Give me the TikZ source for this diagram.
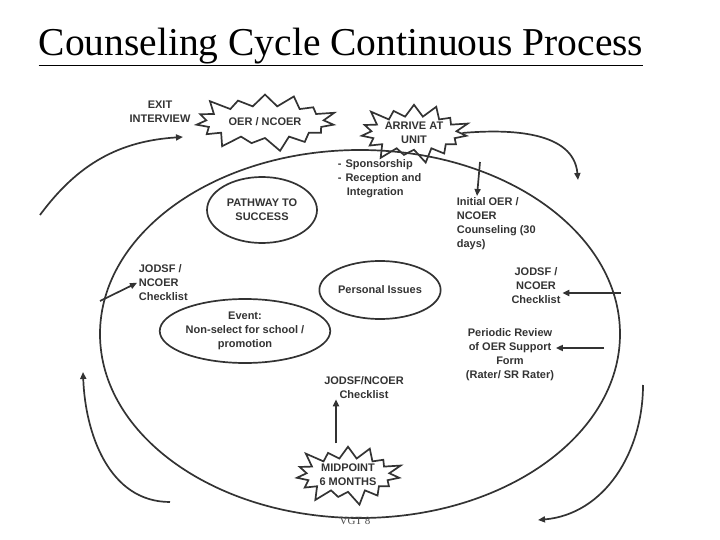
\documentclass[tikz,border=0pt]{standalone}
\usepackage{fontspec}
\setmainfont{Liberation Sans}
\newfontfamily\titlefont{Liberation Serif}
\usetikzlibrary{shapes.geometric,shapes.symbols,arrows.meta}
\begin{document}
\begin{tikzpicture}[x=1pt,y=-1pt,line width=1.7pt,draw=black!80]
    \tikzstyle{lbl} = [font=\bfseries\fontsize{11}{14}\selectfont,align=center,inner sep=1pt,text=black!80]
    \tikzstyle{burst} = [draw,starburst,starburst points=15,starburst point height=16pt,
                         inner sep=0pt,lbl]
    \tikzstyle{blob} = [draw,ellipse,inner sep=0pt,lbl]
    \tikzstyle{flow} = [draw=black!80,-{Triangle[length=7pt,width=6pt]}]

    \useasboundingbox (0,0) rectangle (720,540);

    % title
    \node[font=\titlefont\fontsize{39.5}{42}\selectfont,text=black] (title) at (341,47)
          {\underline{Counseling Cycle Continuous Process}};

    % the cycle
    \node[draw,ellipse,minimum width=520pt,minimum height=368pt] (cycle) at (360,334) {};

    \node[burst,minimum width=150pt,minimum height=64pt] (oer) at (265,122) {OER / NCOER};
    \node[burst,minimum width=112pt,minimum height=54pt] (arrive) at (414,133) {ARRIVE AT\\UNIT};
    \node[burst,minimum width=112pt,minimum height=54pt] (midpoint) at (348,475) {MIDPOINT\\6 MONTHS};

    \node[blob,minimum width=110pt,minimum height=66pt] (pathway) at (262,210) {PATHWAY TO\\SUCCESS};
    \node[blob,minimum width=106pt,minimum height=58pt] (personal) at (380,290) {Personal Issues};
    \node[blob,minimum width=160pt,minimum height=64pt] (event) at (245,331) {Event:\\Non-select for school /\\promotion};

    \node[lbl] (exit) at (160,112) {EXIT\\INTERVIEW};
    \node[lbl,align=left,anchor=north west] (sponsor) at (336,158)
          {-\hspace{4pt}Sponsorship\\-\hspace{4pt}Reception and\\\hspace{9pt}Integration};
    \node[lbl,align=left,anchor=north west] (initial) at (455,196)
          {Initial OER /\\NCOER\\Counseling (30\\days)};
    \node[lbl,align=left,anchor=north west] (jodsfl) at (137,263) {JODSF /\\NCOER\\Checklist};
    \node[lbl] (jodsfr) at (536,286) {JODSF /\\NCOER\\Checklist};
    \node[lbl] (periodic) at (510,355) {Periodic Review\\of OER Support\\Form\\(Rater/ SR Rater)};
    \node[lbl] (jodsfm) at (364,388) {JODSF/NCOER\\Checklist};
    \node[font=\titlefont\fontsize{11}{13}\selectfont,text=black!70] (vgt) at (355,521) {VGT 8};

    % connectors
    \coordinate (tl) at (40,215);
    \coordinate (br) at (538,520);
    \coordinate (bl) at (170,502);
    \coordinate (rj) at (621,293);
    \coordinate (rp) at (604,348);
    \draw[flow] (tl) to[bend left=25] (183,137);
    \draw[flow] (arrive.east) to[out=5,in=95] (578,180);
    \draw[flow] (480,162) -- (477,196);
    \draw[flow] (100,301) -- (jodsfl.west);
    \draw[flow] (rj) -- (rj -| jodsfr.east);
    \draw[flow] (rp) -- (rp -| periodic.east);
    \draw[flow] (midpoint.north) ++(-12,-2) -- ++(0,-44);
    \draw[flow] (bl) to[out=180,in=-88] (83,372);
    \draw[flow] (643,385) to[out=-90,in=5] (br);
\end{tikzpicture}
\end{document}
